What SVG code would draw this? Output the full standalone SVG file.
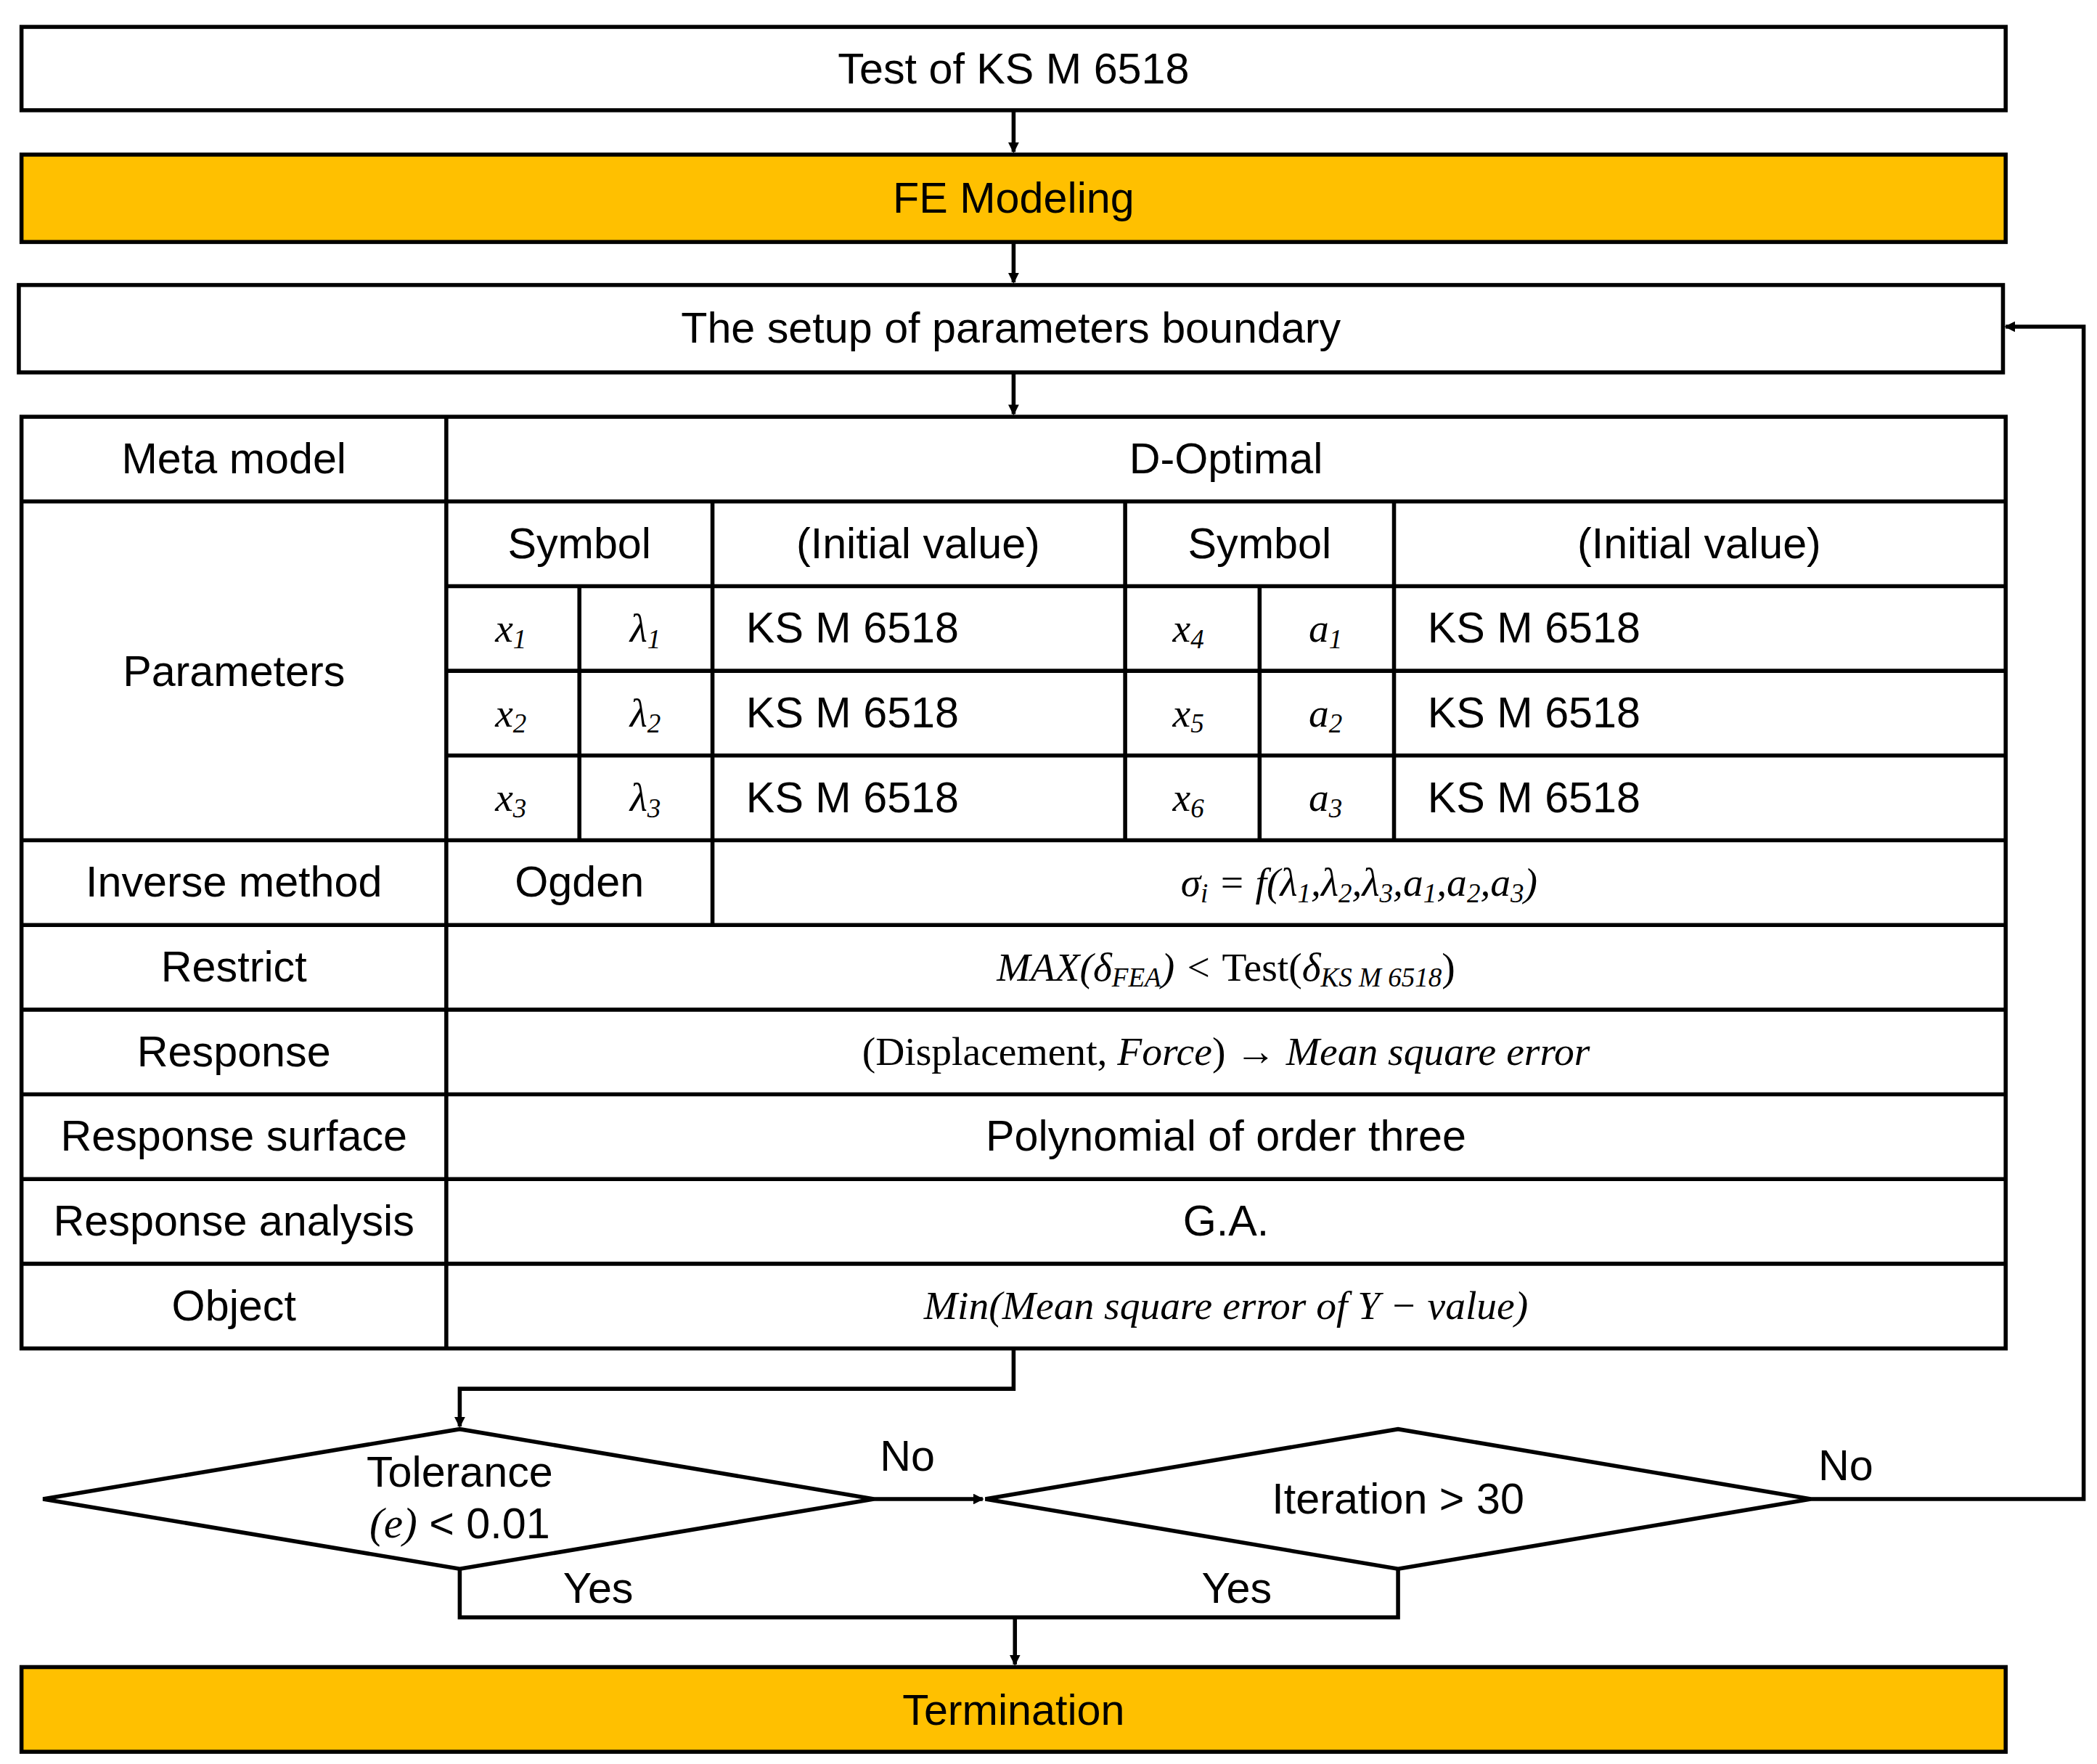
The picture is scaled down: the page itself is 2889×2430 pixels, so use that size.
<svg xmlns="http://www.w3.org/2000/svg" width="2889" height="2430" viewBox="0 0 2889 2430">
<style>
.b{fill:#fff;stroke:#000;stroke-width:3}
.o{fill:#FFC000;stroke:#000;stroke-width:3}
.l{fill:none;stroke:#000;stroke-width:3}
.t{font-family:"Liberation Sans",sans-serif;font-size:32px;text-anchor:middle;dominant-baseline:central}
.s{font-family:"Liberation Sans",sans-serif;font-size:32px;dominant-baseline:central}
.m{font-family:"Liberation Serif",serif;font-size:30px;font-style:italic;text-anchor:middle;dominant-baseline:central}
.u{font-size:20px}
</style>
<defs><marker id="a" markerWidth="8" markerHeight="8" refX="7" refY="4" orient="auto" markerUnits="userSpaceOnUse"><path d="M0,0L8,4L0,8z" fill="#000"/></marker></defs>
<rect width="2889" height="2430" fill="#fff"/>
<g transform="scale(1.852)">
<g id="n1"><rect class="b" x="16" y="20" width="1476" height="62"/><text class="t" x="754" y="51">Test  of  KS  M  6518</text></g>
<g id="n2"><rect class="o" x="16" y="115" width="1476" height="65"/><text class="t" x="754" y="147">FE  Modeling</text></g>
<g id="n3"><rect class="b" x="14" y="212" width="1476" height="65"/><text class="t" x="752" y="244">The  setup  of  parameters  boundary</text></g>
<g id="table">
<rect class="b" x="16" y="310" width="1476" height="693"/>
<path class="l" d="M332,310V1003M16,373H1492M332,436H1492M332,499H1492M332,562H1492M16,625H1492M16,688H1492M16,751H1492M16,814H1492M16,877H1492M16,940H1492M431,436V625M530,373V688M837,373V625M937,436V625M1037,373V625"/>
<text class="t" x="174" y="341">Meta  model</text><text class="t" x="912" y="341">D-Optimal</text>
<text class="t" x="174" y="499">Parameters</text>
<text class="t" x="431" y="404">Symbol</text><text class="t" x="683" y="404">(Initial  value)</text>
<text class="t" x="937" y="404">Symbol</text><text class="t" x="1264" y="404">(Initial  value)</text>
<text class="m" x="380" y="467">x<tspan class="u" dy="8">1</tspan></text><text class="m" x="480" y="467">λ<tspan class="u" dy="8">1</tspan></text><text class="s" x="555" y="467">KS  M  6518</text>
<text class="m" x="884" y="467">x<tspan class="u" dy="8">4</tspan></text><text class="m" x="986" y="467">a<tspan class="u" dy="8">1</tspan></text><text class="s" x="1062" y="467">KS  M  6518</text>
<text class="m" x="380" y="530">x<tspan class="u" dy="8">2</tspan></text><text class="m" x="480" y="530">λ<tspan class="u" dy="8">2</tspan></text><text class="s" x="555" y="530">KS  M  6518</text>
<text class="m" x="884" y="530">x<tspan class="u" dy="8">5</tspan></text><text class="m" x="986" y="530">a<tspan class="u" dy="8">2</tspan></text><text class="s" x="1062" y="530">KS  M  6518</text>
<text class="m" x="380" y="593">x<tspan class="u" dy="8">3</tspan></text><text class="m" x="480" y="593">λ<tspan class="u" dy="8">3</tspan></text><text class="s" x="555" y="593">KS  M  6518</text>
<text class="m" x="884" y="593">x<tspan class="u" dy="8">6</tspan></text><text class="m" x="986" y="593">a<tspan class="u" dy="8">3</tspan></text><text class="s" x="1062" y="593">KS  M  6518</text>
<text class="t" x="174" y="656">Inverse  method</text><text class="t" x="431" y="656">Ogden</text>
<text class="m" x="1011" y="656">σ<tspan class="u" dy="8">i</tspan><tspan dy="-8"> = f(λ</tspan><tspan class="u" dy="8">1</tspan><tspan dy="-8">,λ</tspan><tspan class="u" dy="8">2</tspan><tspan dy="-8">,λ</tspan><tspan class="u" dy="8">3</tspan><tspan dy="-8">,a</tspan><tspan class="u" dy="8">1</tspan><tspan dy="-8">,a</tspan><tspan class="u" dy="8">2</tspan><tspan dy="-8">,a</tspan><tspan class="u" dy="8">3</tspan><tspan dy="-8">)</tspan></text>
<text class="t" x="174" y="719">Restrict</text>
<text class="m" x="912" y="719">MAX(δ<tspan class="u" dy="8">FEA</tspan><tspan dy="-8">) &lt; </tspan><tspan font-style="normal">Test(</tspan>δ<tspan class="u" dy="8">KS M 6518</tspan><tspan dy="-8" font-style="normal">)</tspan></text>
<text class="t" x="174" y="782">Response</text>
<text class="m" x="912" y="782"><tspan font-style="normal">(Displacement,  </tspan>Force<tspan font-style="normal">)  →  </tspan>Mean square error</text>
<text class="t" x="174" y="845">Response  surface</text><text class="t" x="912" y="845">Polynomial  of  order  three</text>
<text class="t" x="174" y="908">Response  analysis</text><text class="t" x="912" y="908">G.A.</text>
<text class="t" x="174" y="971">Object</text><text class="m" x="912" y="971">Min(Mean square error of Y − value)</text>
</g>
<g id="d1"><path class="b" d="M32,1115L342,1063L650,1115L342,1167z"/><text class="t" x="342" y="1095">Tolerance</text><text class="t" x="342" y="1133"><tspan font-family="Liberation Serif" font-style="italic">(e)</tspan>  &lt;  0.01</text></g>
<g id="d2"><path class="b" d="M733,1115L1040,1063L1347,1115L1040,1167z"/><text class="t" x="1040" y="1115">Iteration  &gt;  30</text></g>
<g id="n4"><rect class="o" x="16" y="1240" width="1476" height="63"/><text class="t" x="754" y="1272">Termination</text></g>
<g id="connectors">
<path class="l" d="M754,82V113" marker-end="url(#a)"/>
<path class="l" d="M754,180V210" marker-end="url(#a)"/>
<path class="l" d="M754,277V308" marker-end="url(#a)"/>
<path class="l" d="M754,1003V1033H342V1061" marker-end="url(#a)"/>
<path class="l" d="M650,1115H731" marker-end="url(#a)"/>
<path class="l" d="M1347,1115H1550V243H1492" marker-end="url(#a)"/>
<path class="l" d="M342,1167V1203H1040V1167M755,1203V1238" marker-end="url(#a)"/>
<text class="t" x="675" y="1083" font-size="38">No</text>
<text class="t" x="1373" y="1090" font-size="38">No</text>
<text class="t" x="445" y="1181" font-size="38">Yes</text>
<text class="t" x="920" y="1181" font-size="38">Yes</text>
</g>
</g>
</svg>
